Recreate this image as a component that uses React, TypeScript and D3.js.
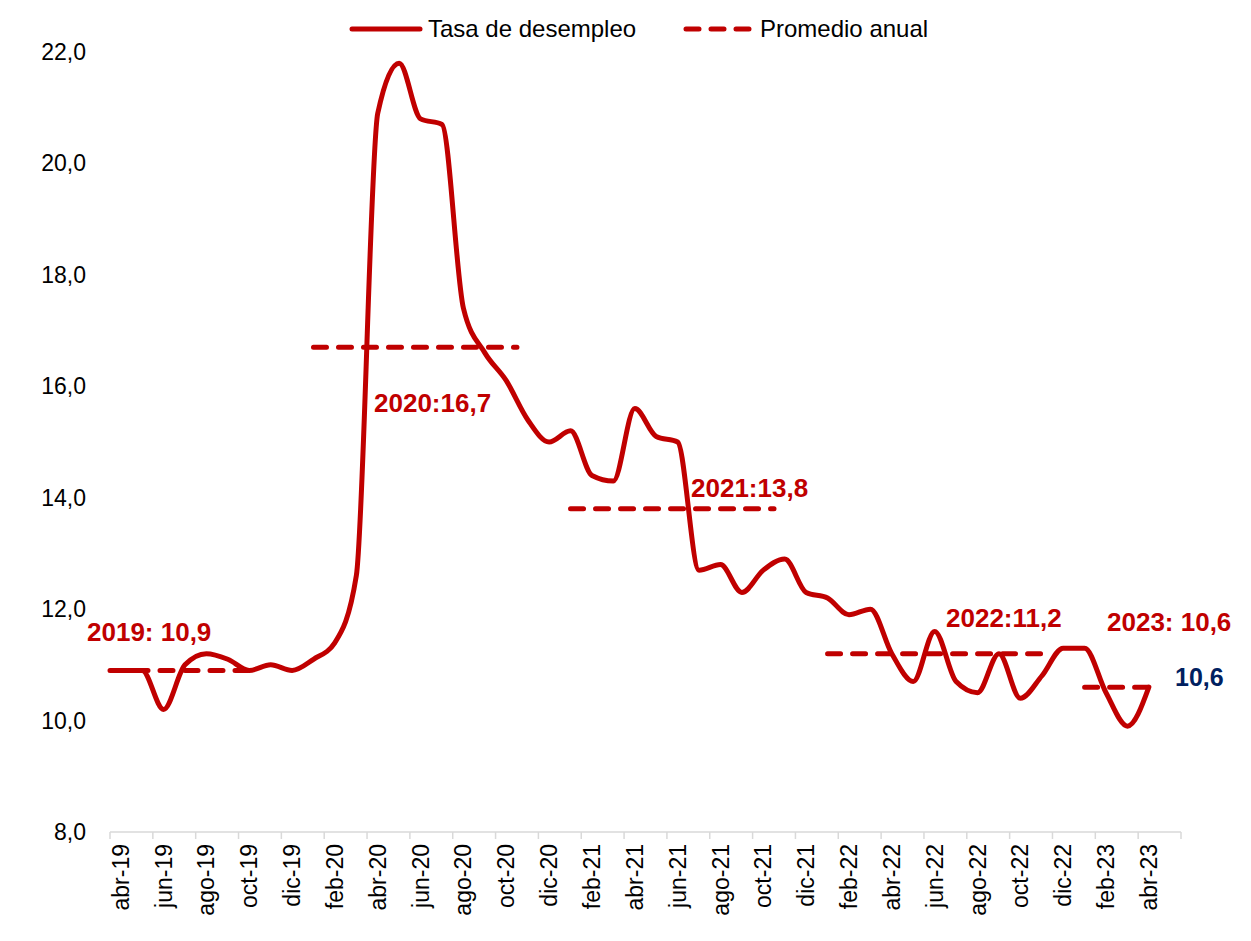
import React from 'react';
import * as d3 from 'd3';

// monthly categories abr-19 .. may-23 (last one has no data)
const months = [
  'abr-19', 'may-19', 'jun-19', 'jul-19', 'ago-19', 'sep-19', 'oct-19', 'nov-19', 'dic-19',
  'ene-20', 'feb-20', 'mar-20', 'abr-20', 'may-20', 'jun-20', 'jul-20', 'ago-20', 'sep-20', 'oct-20', 'nov-20', 'dic-20',
  'ene-21', 'feb-21', 'mar-21', 'abr-21', 'may-21', 'jun-21', 'jul-21', 'ago-21', 'sep-21', 'oct-21', 'nov-21', 'dic-21',
  'ene-22', 'feb-22', 'mar-22', 'abr-22', 'may-22', 'jun-22', 'jul-22', 'ago-22', 'sep-22', 'oct-22', 'nov-22', 'dic-22',
  'ene-23', 'feb-23', 'mar-23', 'abr-23', 'may-23',
];

const desempleo = [
  10.9, 10.9, 10.2, 11.0, 11.2, 11.1, 10.9, 11.0, 10.9,
  11.1, 11.4, 12.6, 20.9, 21.8, 20.8, 20.7, 17.4, 16.6, 16.1, 15.4, 15.0,
  15.2, 14.4, 14.3, 15.6, 15.1, 15.0, 12.7, 12.8, 12.3, 12.7, 12.9, 12.3,
  12.2, 11.9, 12.0, 11.2, 10.7, 11.6, 10.7, 10.5, 11.2, 10.4, 10.8, 11.3,
  11.3, 10.5, 9.9, 10.6,
];

// annual averages, drawn over a span of month indexes
const avgYears = ['2019', '2020', '2021', '2022', '2023'];
const avgValues = [10.9, 16.7, 13.8, 11.2, 10.6];
const avgFrom = [-0.5, 9, 21, 33, 45];
const avgTo = [6.5, 18.5, 30.5, 43.5, 48];

const yTicks = [8, 10, 12, 14, 16, 18, 20, 22];

const W = 1251;
const H = 941;
const RED = '#C00000';
const NAVY = '#002060';
const FONT = '"Liberation Sans", Arial, sans-serif';

export default function App() {
  const left = 110;
  const right = 1181;
  const top = 52;
  const bottom = 832;

  const x = d3.scaleLinear().domain([0, months.length]).range([left, right]);
  const y = d3.scaleLinear().domain([8, 22]).range([bottom, top]);
  const cx = (i: number) => x(i + 0.5);

  const line = d3.line<number>()
    .x((d, i) => cx(i))
    .y((d) => y(d))
    .curve(d3.curveMonotoneX);

  const fmt = (v: number) => v.toFixed(1).replace('.', ',');

  const tickIdx = d3.range(0, months.length + 1, 2);
  const labelIdx = d3.range(0, desempleo.length, 2);

  return (
    <svg width={W} height={H} style={{ position: 'absolute', left: 0, top: 0, background: '#fff' }} fontFamily={FONT}>
      {/* legend */}
      <g>
        <line x1={352} x2={420} y1={29} y2={29} stroke={RED} strokeWidth={5} strokeLinecap="round" />
        <text x={428} y={29} dy="0.35em" fontSize={24} fill="#000">Tasa de desempleo</text>
        <line x1={686} x2={750} y1={29} y2={29} stroke={RED} strokeWidth={5} strokeLinecap="round" strokeDasharray="13 12" />
        <text x={760} y={29} dy="0.35em" fontSize={24} fill="#000">Promedio anual</text>
      </g>

      {/* y axis labels */}
      {yTicks.map((t) => (
        <text key={t} x={86} y={y(t)} dy="0.35em" textAnchor="end" fontSize={23} fill="#000">{fmt(t)}</text>
      ))}

      {/* x axis */}
      <line x1={left} x2={right} y1={bottom} y2={bottom} stroke="#d9d9d9" strokeWidth={1.5} />
      {tickIdx.map((i) => (
        <line key={i} x1={x(i)} x2={x(i)} y1={bottom} y2={bottom + 7} stroke="#d9d9d9" strokeWidth={1.5} />
      ))}
      {labelIdx.map((i) => (
        <text key={i} transform={`translate(${cx(i)},${bottom + 12}) rotate(-90)`} dy="0.35em" textAnchor="end" fontSize={23} fill="#000">
          {months[i]}
        </text>
      ))}

      {/* annual averages */}
      {avgValues.map((v, k) => (
        <line key={avgYears[k]} x1={cx(avgFrom[k])} x2={cx(avgTo[k])} y1={y(v)} y2={y(v)}
          stroke={RED} strokeWidth={5} strokeLinecap="round" strokeDasharray="13 12" />
      ))}

      {/* unemployment rate */}
      <path d={line(desempleo) || ''} fill="none" stroke={RED} strokeWidth={5} strokeLinejoin="round" strokeLinecap="round" />

      {/* annotations */}
      <g fontWeight="bold" fontSize={26} fill={RED}>
        <text x={87} y={641}>{`${avgYears[0]}: ${fmt(avgValues[0])}`}</text>
        <text x={374} y={412}>{`${avgYears[1]}:${fmt(avgValues[1])}`}</text>
        <text x={691} y={497}>{`${avgYears[2]}:${fmt(avgValues[2])}`}</text>
        <text x={946} y={627}>{`${avgYears[3]}:${fmt(avgValues[3])}`}</text>
        <text x={1107} y={631}>{`${avgYears[4]}: ${fmt(avgValues[4])}`}</text>
      </g>
      <text x={1175} y={686} fontWeight="bold" fontSize={25} fill={NAVY}>{fmt(desempleo[desempleo.length - 1])}</text>
    </svg>
  );
}
